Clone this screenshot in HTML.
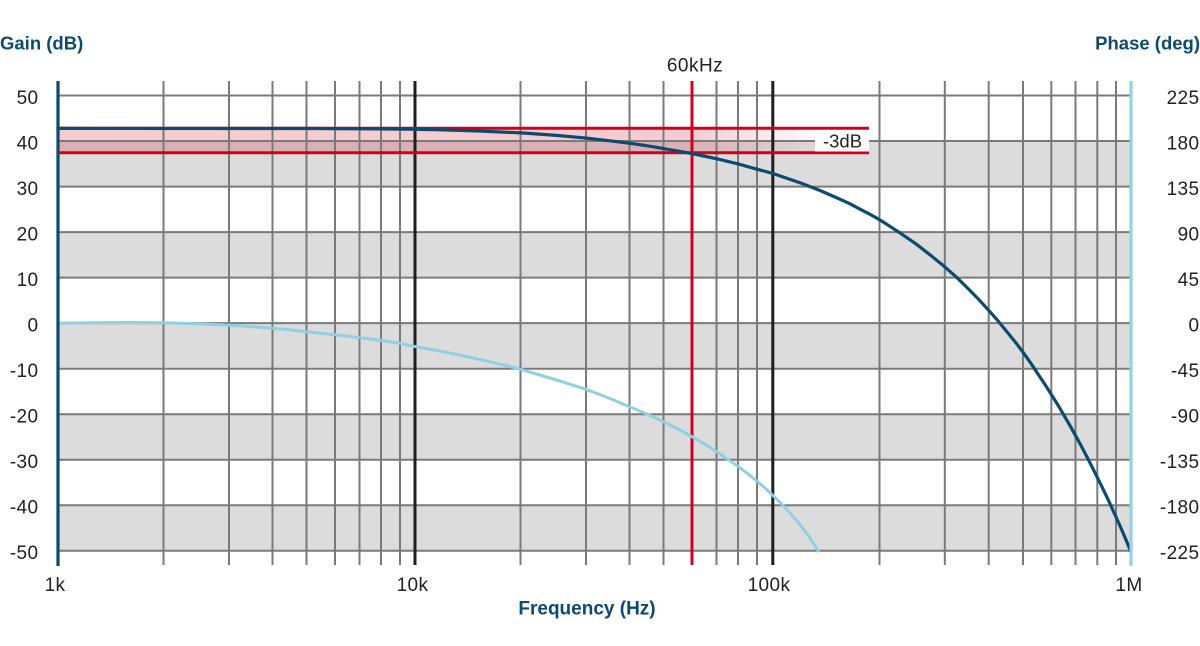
<!DOCTYPE html>
<html>
<head>
<meta charset="utf-8">
<style>
  html,body{margin:0;padding:0;background:#fff;}
  svg{display:block;}
  text{font-family:"Liberation Sans",Arial,sans-serif;}
</style>
</head>
<body>
<svg width="1200" height="646" viewBox="0 0 1200 646" xmlns="http://www.w3.org/2000/svg">
  <defs>
    <linearGradient id="pinkfade" gradientUnits="userSpaceOnUse" x1="58" y1="0" x2="869" y2="0">
      <stop offset="0" stop-color="#d0021b" stop-opacity="0.2"/>
      <stop offset="0.78" stop-color="#d0021b" stop-opacity="0.2"/>
      <stop offset="0.95" stop-color="#d0021b" stop-opacity="0"/>
    </linearGradient>
  </defs>

  <!-- gray bands -->
  <g fill="#dcdcdc">
    <rect x="58" y="141" width="1073" height="45.6"/>
    <rect x="58" y="232.1" width="1073" height="45.5"/>
    <rect x="58" y="323.1" width="1073" height="45.6"/>
    <rect x="58" y="414.2" width="1073" height="45.5"/>
    <rect x="58" y="505.2" width="1073" height="45.6"/>
  </g>

  <!-- pink -3dB band -->
  <rect x="58" y="128.3" width="811" height="24.4" fill="url(#pinkfade)"/>

  <!-- horizontal grid -->
  <g stroke="#7a7a7a" stroke-width="2">
    <line x1="58" y1="95.5" x2="1131" y2="95.5"/>
    <line x1="58" y1="141" x2="1131" y2="141"/>
    <line x1="58" y1="186.6" x2="1131" y2="186.6"/>
    <line x1="58" y1="232.1" x2="1131" y2="232.1"/>
    <line x1="58" y1="277.6" x2="1131" y2="277.6"/>
    <line x1="58" y1="323.1" x2="1131" y2="323.1"/>
    <line x1="58" y1="368.7" x2="1131" y2="368.7"/>
    <line x1="58" y1="414.2" x2="1131" y2="414.2"/>
    <line x1="58" y1="459.7" x2="1131" y2="459.7"/>
    <line x1="58" y1="505.2" x2="1131" y2="505.2"/>
    <line x1="58" y1="550.8" x2="1131" y2="550.8"/>
  </g>

  <!-- vertical grid -->
  <g stroke="#7a7a7a" stroke-width="2">
    <line x1="163.5" y1="81" x2="163.5" y2="565"/>
    <line x1="229" y1="81" x2="229" y2="565"/>
    <line x1="272.5" y1="81" x2="272.5" y2="565"/>
    <line x1="306.5" y1="81" x2="306.5" y2="565"/>
    <line x1="335" y1="81" x2="335" y2="565"/>
    <line x1="359.5" y1="81" x2="359.5" y2="565"/>
    <line x1="381" y1="81" x2="381" y2="565"/>
    <line x1="400" y1="81" x2="400" y2="565"/>

    <line x1="520.5" y1="81" x2="520.5" y2="565"/>
    <line x1="586" y1="81" x2="586" y2="565"/>
    <line x1="629.5" y1="81" x2="629.5" y2="565"/>
    <line x1="663.5" y1="81" x2="663.5" y2="565"/>
    <line x1="716.5" y1="81" x2="716.5" y2="565"/>
    <line x1="738" y1="81" x2="738" y2="565"/>
    <line x1="757" y1="81" x2="757" y2="565"/>

    <line x1="879.5" y1="81" x2="879.5" y2="565"/>
    <line x1="944.8" y1="81" x2="944.8" y2="565"/>
    <line x1="988.7" y1="81" x2="988.7" y2="565"/>
    <line x1="1023" y1="81" x2="1023" y2="565"/>
    <line x1="1051.3" y1="81" x2="1051.3" y2="565"/>
    <line x1="1075.5" y1="81" x2="1075.5" y2="565"/>
    <line x1="1097.3" y1="81" x2="1097.3" y2="565"/>
    <line x1="1116" y1="81" x2="1116" y2="565"/>
  </g>

  <!-- decade lines -->
  <g stroke="#1e1e1e" stroke-width="3">
    <line x1="415" y1="81" x2="415" y2="565"/>
    <line x1="772.8" y1="81" x2="772.8" y2="565"/>
  </g>

  <!-- red markers -->
  <g stroke="#d0021b" stroke-width="3">
    <line x1="58" y1="128.3" x2="869" y2="128.3"/>
    <line x1="58" y1="152.7" x2="869" y2="152.7"/>
    <line x1="692" y1="81" x2="692" y2="565"/>
  </g>

  <!-- -3dB label -->
  <rect x="815" y="130" width="54" height="21.5" fill="#fff"/>
  <text x="842.5" y="147.5" font-size="18.5" fill="#222" text-anchor="middle">-3dB</text>

  <!-- phase curve -->
  <polyline fill="none" stroke="#8fd0e1" stroke-width="3" stroke-linejoin="round" stroke-linecap="round"
    points="58,323.2 90,322.7 125,322.5 163.5,322.8 200,323.9 229,325.3 252,326.7 272.5,328.3 290,329.9 306.5,331.7 321,333.2 335,334.7 348,336.2 359.5,337.7 371,339.1 381,340.5 391,341.9 400,343.4 408,345 415,346.5 445,352 470,357.3 496,363.2 520.5,369.3 555,379.5 586,389.3 610,398.5 629.5,406.7 647,414 663.5,421.7 678,429 692,436.7 705,444.3 716.5,451.5 727,458.7 738,466.3 748,473.8 757,481.2 765,488 772.5,495 785,507.5 797,521 808,535 818.3,551"/>

  <!-- gain curve -->
  <polyline fill="none" stroke="#0c4a6e" stroke-width="3.2" stroke-linejoin="round" stroke-linecap="round"
    points="58,128.4 308,128.5 381,128.9 415.7,129.3 444,129.9 478.7,131 523.4,133 558,135.5 586.4,138.1 610,140.8 631.1,143.4 649,146.1 665.7,148.9 680,151.4 694.1,154 706,156.5 718,159.1 738.7,164.1 756,168.9 773.4,173.6 801.7,183.4 820,190.5 836.4,197.6 849,203.3 860.3,209.3 871,214.8 881.1,220.6 898,231.6 915.7,243.7 930,254.8 944.1,266.3 956.5,277.2 968,288.5 978.7,299.4 988.8,310.4 998.2,321.1 1007.1,332 1015.8,342.7 1023.9,353.4 1031.3,363.9 1038.2,374.4 1045.2,384.8 1051.8,395.2 1058.2,405.5 1064.2,415.7 1070.1,425.8 1075.7,435.9 1081.2,445.9 1086.4,455.9 1091.5,465.8 1096.4,475.6 1101.2,485.3 1105.9,495 1110.4,504.6 1114.7,514.1 1119,523.6 1123.1,533 1127,542.3 1130.7,551.5"/>

  <!-- axes -->
  <line x1="58" y1="81" x2="58" y2="566" stroke="#0c4a6e" stroke-width="3.2"/>
  <line x1="1131" y1="81" x2="1131" y2="566" stroke="#93d2e3" stroke-width="3.2"/>

  <!-- axis titles -->
  <text x="0" y="49.5" font-size="18.5" font-weight="bold" fill="#0c4a6e">Gain (dB)</text>
  <text x="1200" y="49.5" font-size="18.5" font-weight="bold" fill="#0c4a6e" text-anchor="end">Phase (deg)</text>
  <text x="587" y="614.5" font-size="19" font-weight="bold" fill="#0c4a6e" text-anchor="middle">Frequency (Hz)</text>
  <text x="695" y="71.5" font-size="19" fill="#222" text-anchor="middle" letter-spacing="0.5">60kHz</text>

  <!-- left tick labels -->
  <g font-size="19" fill="#222" text-anchor="end" letter-spacing="0.4">
    <text x="38.5" y="104">50</text>
    <text x="38.5" y="149.3">40</text>
    <text x="38.5" y="194.8">30</text>
    <text x="38.5" y="240.3">20</text>
    <text x="38.5" y="285.8">10</text>
    <text x="38.5" y="331.3">0</text>
    <text x="38.5" y="376.9">-10</text>
    <text x="38.5" y="422.4">-20</text>
    <text x="38.5" y="467.9">-30</text>
    <text x="38.5" y="513.4">-40</text>
    <text x="38.5" y="559">-50</text>
  </g>

  <!-- right tick labels -->
  <g font-size="19" fill="#222" text-anchor="end" letter-spacing="0.4">
    <text x="1199.5" y="104">225</text>
    <text x="1199.5" y="149.3">180</text>
    <text x="1199.5" y="194.8">135</text>
    <text x="1199.5" y="240.3">90</text>
    <text x="1199.5" y="285.8">45</text>
    <text x="1199.5" y="331.3">0</text>
    <text x="1199.5" y="376.9">-45</text>
    <text x="1199.5" y="422.4">-90</text>
    <text x="1199.5" y="467.9">-135</text>
    <text x="1199.5" y="513.4">-180</text>
    <text x="1199.5" y="559">-225</text>
  </g>

  <!-- x tick labels -->
  <g font-size="19" fill="#222" text-anchor="middle" letter-spacing="0.4">
    <text x="55" y="591">1k</text>
    <text x="412.5" y="591">10k</text>
    <text x="769" y="591">100k</text>
    <text x="1129" y="591">1M</text>
  </g>
</svg>
</body>
</html>
